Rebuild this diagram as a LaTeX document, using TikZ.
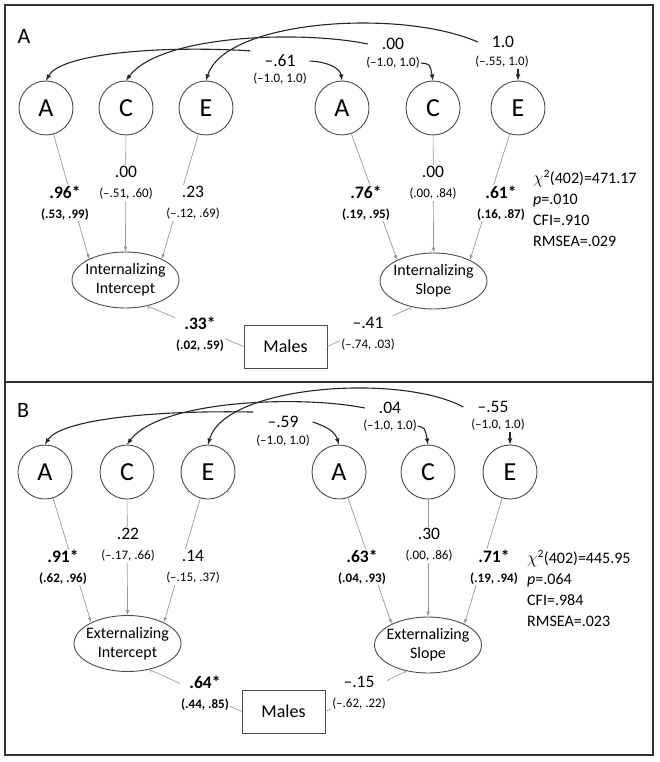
\documentclass[tikz,border=0pt]{standalone}
\usepackage{fontspec}
\setmainfont{Carlito}
\usetikzlibrary{shapes.geometric}
\newcommand{\cisize}{\fontsize{13}{15}\selectfont}
\begin{document}
\begin{tikzpicture}[x=1pt, y=-1pt,
  frame/.style={draw=black!80, line width=2pt},
  panel/.style={font=\fontsize{22}{24}\selectfont},
  lat/.style={circle, draw=black!70, line width=0.9pt, minimum size=54pt, inner sep=0pt, font=\fontsize{26}{28}\selectfont},
  growth/.style={ellipse, draw=black!70, line width=0.9pt, minimum width=107pt, minimum height=56pt, inner sep=-4pt, align=center, font=\fontsize{16}{19}\selectfont},
  sexbox/.style={rectangle, draw=black!70, line width=0.9pt, minimum width=83pt, minimum height=43pt, font=\fontsize{18}{20}\selectfont},
  rlab/.style={inner xsep=14pt, inner ysep=4pt, font=\fontsize{17.5}{19}\selectfont},
  rci/.style={inner sep=1pt, font=\cisize},
  coef/.style={fill=white, inner sep=1pt, align=center, font=\fontsize{17.5}{20}\selectfont},
  gof/.style={align=left, anchor=west, inner sep=0pt, font=\fontsize{16}{21}\selectfont},
  corr/.style={-latex, draw=black!85, line width=1.1pt},
  load/.style={-latex, draw=black!40, line width=0.7pt},
  reg/.style={-to, draw=black!35, line width=0.8pt}]
  % okvir
  \useasboundingbox (0,0) rectangle (659,762);
  \draw[frame] (5,5) rectangle (653,382);
  \draw[frame] (5,382) rectangle (653,755);

  % A: latent variables
  \node[panel] (aTag) at (24,36) {A};
  \node[lat] (aA1) at (46,108) {A};
  \node[lat] (aC1) at (126,108) {C};
  \node[lat] (aE1) at (206,108) {E};
  \node[lat] (aA2) at (342,108) {A};
  \node[lat] (aC2) at (433,108) {C};
  \node[lat] (aE2) at (518,108) {E};
  \node[growth] (aI) at (125.5,280) {Internalizing\\Intercept};
  \node[growth] (aS) at (433.5,281) {Internalizing\\Slope};
  \node[sexbox] (aM) at (285.5,346.5) {Males};
  % A: correlations
  \node[rlab] (aR1) at (280,61) {–.61};
  \node[rci] (aR1ci) at (280,79) {(–1.0, 1.0)};
  \node[rlab] (aR2) at (393,44) {.00};
  \node[rci] (aR2ci) at (393,63) {(–1.0, 1.0)};
  \node[rlab] (aR3) at (503,42) {1.0};
  \node[rci] (aR3ci) at (502,62) {(–.55, 1.0)};
  \draw[corr] (aR1.north west) .. controls (150,45) and (60,55) .. (aA1.north);
  \draw[corr] (aR1.east) .. controls (328,62) and (340,68) .. (aA2.north);
  \draw[corr] (aR2.west) .. controls (300,30) and (160,35) .. (aC1.north);
  \draw[corr] (aR2ci.east) .. controls (430,64) .. (aC2.north);
  \draw[corr] (aR3.west) .. controls (400,8) and (225,20) .. (aE1.north);
  \draw[corr] (aR3ci.south -| aE2.north) -- (aE2.north);
  % A: paths
  \draw[load] (aA1) -- (aI.150);
  \draw[load] (aC1) -- (aI.north);
  \draw[load] (aE1) -- (aI.30);
  \draw[load] (aA2) -- (aS.150);
  \draw[load] (aC2) -- (aS.north);
  \draw[load] (aE2) -- (aS.30);
  \draw[reg] (aM.west) -- (aI.-50);
  \draw[reg] (aM.east) -- (aS.-130);
  % A: estimates
  \node[coef] (aLa1) at (65,203) {\textbf{.96*}\\\cisize\textbf{(.53, .99)}};
  \node[coef] (aLc1) at (126,183) {.00\\\cisize(–.51, .60)};
  \node[coef] (aLe1) at (193,203) {.23\\\cisize(–.12, .69)};
  \node[coef] (aLa2) at (366,203) {\textbf{.76*}\\\cisize\textbf{(.19, .95)}};
  \node[coef] (aLc2) at (433,183) {.00\\\cisize(.00, .84)};
  \node[coef] (aLe2) at (501,203) {\textbf{.61*}\\\cisize\textbf{(.16, .87)}};
  \node[coef] (aLm1) at (200,334) {\textbf{.33*}\\\cisize\textbf{(.02, .59)}};
  \node[coef] (aLm2) at (368,334) {–.41\\\cisize(–.74, .03)};
  \node[gof] (aFit) at (533,208.5) {$\chi$\textsuperscript{2}(402)=471.17\\\textit{p}=.010\\CFI=.910\\RMSEA=.029};

  % B: latent variables
  \node[panel] (bTag) at (23,410) {B};
  \node[lat] (bA1) at (45,472) {A};
  \node[lat] (bC1) at (127,472) {C};
  \node[lat] (bE1) at (208,472) {E};
  \node[lat] (bA2) at (339,472) {A};
  \node[lat] (bC2) at (428,472) {C};
  \node[lat] (bE2) at (510,472) {E};
  \node[growth] (bI) at (127.5,643.5) {Externalizing\\Intercept};
  \node[growth] (bS) at (428,645) {Externalizing\\Slope};
  \node[sexbox] (bM) at (283.5,711.5) {Males};
  % B: correlations
  \node[rlab] (bR1) at (283,422) {–.59};
  \node[rci] (bR1ci) at (283,441) {(–1.0, 1.0)};
  \node[rlab] (bR2) at (390,408) {.04};
  \node[rci] (bR2ci) at (390,426) {(–1.0, 1.0)};
  \node[rlab] (bR3) at (493,407) {–.55};
  \node[rci] (bR3ci) at (498,425) {(–1.0, 1.0)};
  \draw[corr] (bR1.north west) .. controls (150,410) and (60,420) .. (bA1.north);
  \draw[corr] (bR1.east) .. controls (328,427) and (335,432) .. (bA2.north);
  \draw[corr] (bR2.west) .. controls (300,395) and (160,400) .. (bC1.north);
  \draw[corr] (bR2ci.east) .. controls (425,428) .. (bC2.north);
  \draw[corr] (bR3.west) .. controls (400,373) and (225,385) .. (bE1.north);
  \draw[corr] (bR3ci.south -| bE2.north) -- (bE2.north);
  % B: paths
  \draw[load] (bA1) -- (bI.150);
  \draw[load] (bC1) -- (bI.north);
  \draw[load] (bE1) -- (bI.30);
  \draw[load] (bA2) -- (bS.150);
  \draw[load] (bC2) -- (bS.north);
  \draw[load] (bE2) -- (bS.30);
  \draw[reg] (bM.west) -- (bI.-50);
  \draw[reg] (bM.east) -- (bS.-130);
  % B: estimates
  \node[coef] (bLa1) at (63,567) {\textbf{.91*}\\\cisize\textbf{(.62, .96)}};
  \node[coef] (bLc1) at (128,545) {.22\\\cisize(–.17, .66)};
  \node[coef] (bLe1) at (193,567) {.14\\\cisize(–.15, .37)};
  \node[coef] (bLa2) at (362,567) {\textbf{.63*}\\\cisize\textbf{(.04, .93)}};
  \node[coef] (bLc2) at (429,545) {.30\\\cisize(.00, .86)};
  \node[coef] (bLe2) at (494,567) {\textbf{.71*}\\\cisize\textbf{(.19, .94)}};
  \node[coef] (bLm1) at (205,693) {\textbf{.64*}\\\cisize\textbf{(.44, .85)}};
  \node[coef] (bLm2) at (359,693) {–.15\\\cisize(–.62, .22)};
  \node[gof] (bFit) at (527,588.5) {$\chi$\textsuperscript{2}(402)=445.95\\\textit{p}=.064\\CFI=.984\\RMSEA=.023};
\end{tikzpicture}
\end{document}
